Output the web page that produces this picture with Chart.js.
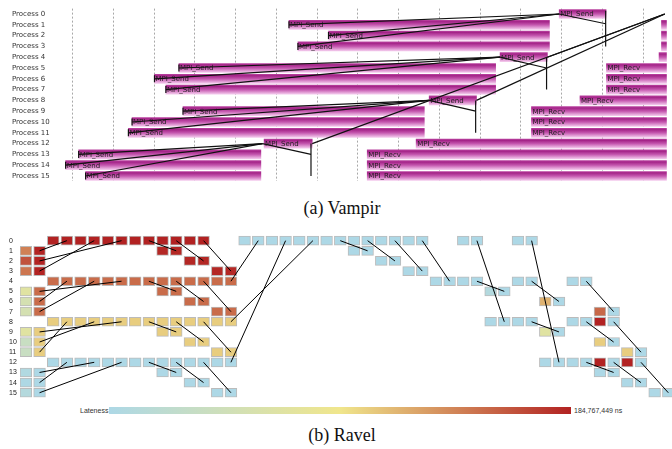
<!DOCTYPE html>
<html><head><meta charset="utf-8">
<script src="https://cdn.jsdelivr.net/npm/chart.js@4.4.1/dist/chart.umd.min.js"></script>
<style>
html,body{margin:0;padding:0;background:#fff;}
body{width:672px;height:449px;position:relative;overflow:hidden;}
canvas{position:absolute;left:0;}
#c1{top:0;}
#c2{top:228px;}
.cap{position:absolute;left:0;width:684px;text-align:center;font-family:"Liberation Serif","Times New Roman",serif;font-size:18px;line-height:18px;color:#111;}
.cb{position:absolute;font-family:"Liberation Sans",Arial,sans-serif;font-size:7px;line-height:7px;color:#333;}
#bar{position:absolute;left:109px;top:407px;width:462px;height:7px;background:linear-gradient(to right,#add8e6 0%,#f0e68c 50%,#b22222 100%);}
</style></head>
<body>
<canvas id="c1" width="672" height="190"></canvas>
<div class="cap" style="top:199px">(a) Vampir</div>
<canvas id="c2" width="672" height="174"></canvas>
<div class="cb" style="left:80px;top:407px">Lateness</div>
<div id="bar"></div>
<div class="cb" style="left:574px;top:407px">184,767,449 ns</div>
<div class="cap" style="top:426px">(b) Ravel</div>
<script>
// ---------- (a) Vampir data (time in grid units) ----------
const processLabels = ['Process 0','Process 1','Process 2','Process 3','Process 4','Process 5','Process 6','Process 7','Process 8','Process 9','Process 10','Process 11','Process 12','Process 13','Process 14','Process 15'];
const sendStart = [11.94, 5.31, 6.28, 5.53, 10.49, 2.61, 2.01, 2.29, 8.75, 2.71, 1.46, 1.37, 4.70, 0.15, -0.17, 0.32];
const sendEnd   = [13.09, 11.70, 11.70, 11.70, 11.65, 10.38, 10.38, 10.38, 9.91, 8.63, 8.63, 8.63, 5.88, 4.62, 4.62, 4.62];
const recvProc  = [1, 2, 3, 4, 5, 6, 7, 8, 9, 10, 11, 12, 13, 14, 15];
const recvStart = [14.45, 14.45, 14.45, 14.39, 13.10, 13.10, 13.10, 12.45, 11.26, 11.26, 11.26, 8.43, 7.23, 7.23, 7.23];
const recvEnd   = [15.5, 15.5, 15.5, 15.5, 15.5, 15.5, 15.5, 15.5, 15.5, 15.5, 15.5, 15.5, 15.5, 15.5, 15.5];
const msgFromTime = [5.31, 6.28, 5.53, 11.94, 13.08, 2.61, 2.01, 2.29, 10.49, 11.63, 11.65, 2.71, 1.46, 1.37, 8.75, 9.89, 9.91, 0.15, -0.17, 0.32, 4.66, 5.85, 5.88];
const msgFromProc = [1, 2, 3, 0, -0.3, 5, 6, 7, 4, 4, 4, 9, 10, 11, 8, 8, 8, 13, 14, 15, 12, 12, 12];
const msgToTime   = [11.94, 11.94, 11.94, 13.08, 13.08, 10.49, 10.49, 10.49, 11.63, 11.63, 14.53, 8.75, 8.75, 8.75, 9.89, 9.89, 14.53, 4.66, 4.66, 4.66, 5.85, 5.85, 14.53];
const msgToProc   = [0, 0, 0, 0.9, 3, 4, 4, 4, 5, 7, 0, 8, 8, 8, 9, 11, 0, 12, 12, 12, 13, 15, 0];
const msgTick     = [1, 1, 1, 0, 0, 1, 1, 1, 0, 0, 0, 1, 1, 1, 0, 0, 0, 1, 1, 1, 0, 0, 0];

// ---------- (b) Ravel data (logical steps, lateness in millions of ns) ----------
const rankLabels = ['0','1','2','3','4','5','6','7','8','9','10','11','12','13','14','15'];
const latenessMax = 184.767449;
const ravelSteps = [
  [2,3,4,5,6,7,8,9,10,11,12,13,16,17,18,19,20,21,22,23,24,25,26,27,28,29,32,33,36,37],
  [0,1,10,11,24,25],
  [0,1,12,13,26,27],
  [0,1,14,15,28,29],
  [2,3,4,5,6,7,8,9,10,11,12,13,14,15,30,31,32,33,36,37,40,41],
  [0,1,10,11,34,35],
  [0,1,12,13,38,39],
  [0,1,14,15,42,43],
  [2,3,4,5,6,7,8,9,10,11,12,13,14,15,34,35,36,37,40,41,42,43],
  [0,1,10,11,38,39],
  [0,1,12,13,42,43],
  [0,1,14,15,44,45],
  [2,3,4,5,6,7,8,9,10,11,12,13,14,15,38,39,40,41,42,43,44,45],
  [0,1,10,11,42,43],
  [0,1,12,13,44,45],
  [0,1,14,15,46,47]
];
const ravelLateness = [
  [184.8,184.8,184.8,184.8,184.8,184.8,184.8,184.8,184.8,184.8,184.8,184.8,0,0,0,0,0,0,0,0,0,0,0,0,0,0,0,0,0,0],
  [140,184,182,182,0,0],
  [162,184,182,182,0,0],
  [145,184,182,182,0,0],
  [150,150,150,150,150,150,150,150,150,150,150,150,150,150,0,0,0,0,0,0,0,0],
  [70,150,150,150,8,0],
  [54,150,150,150,117,0],
  [54,150,150,150,152,0],
  [104,104,104,104,104,104,104,104,104,104,104,104,104,104,0,0,0,0,0,0,184.8,0],
  [70,104,104,104,70,0],
  [37,104,104,104,104,0],
  [37,104,104,104,104,0],
  [0,0,0,0,0,0,0,0,0,0,0,0,0,0,0,0,0,0,184.8,0,184.8,0],
  [5,0,0,0,0,0],
  [2,0,0,0,0,0],
  [9,0,0,0,0,0]
];
const ravelFromStep = [1,1,1,9,11,13, 1,1,1,9,11,13, 1,1,1,9,11,13, 1,1,1,9,11,13, 15,15,15, 23,25,27,29,33,33,37,37,37,41,41,43,41,43,45];
const ravelFromRow  = [1,2,3,0,0,0,   5,6,7,4,4,4,    9,10,11,8,8,8,  13,14,15,12,12,12, 4,8,12, 0,0,0,0,0,4,0,4,8,4,8,8,12,12,12];
const ravelToStep   = [3,7,5,11,13,15, 7,3,5,11,13,15, 7,5,3,11,13,15, 5,3,7,11,13,15, 17,21,19, 25,27,29,31,35,35,39,39,39,43,43,45,43,45,47];
const ravelToRow    = [0,0,0,1,2,3,   4,4,4,5,6,7,    8,8,8,9,10,11,  12,12,12,13,14,15, 0,0,0, 1,2,3,4,8,5,12,6,9,7,10,11,13,14,15];

Chart.defaults.animation = false;

function latenessColor(v) {
  const t = Math.max(0, Math.min(1, v / latenessMax));
  const stops = [[173,216,230],[240,230,140],[178,34,34]];
  const seg = t < 0.5 ? 0 : 1;
  const f = t < 0.5 ? t / 0.5 : (t - 0.5) / 0.5;
  const a = stops[seg], b = stops[seg + 1];
  return 'rgb(' + a.map((c, i) => Math.round(c + (b[i] - c) * f)).join(',') + ')';
}

function magenta(ctx) {
  const chart = ctx.chart;
  const ys = chart.scales && chart.scales.y;
  if (ctx.type !== 'data' || !ys || !chart.chartArea || !ctx.raw) return '#c455b0';
  const yc = ys.getPixelForValue(ctx.raw.y);
  const g = chart.ctx.createLinearGradient(0, yc - 4.5, 0, yc + 4.5);
  g.addColorStop(0, '#b8409e');
  g.addColorStop(0.15, '#a42488');
  g.addColorStop(0.5, '#c456ae');
  g.addColorStop(1, '#f3c8ec');
  return g;
}

const barLabelPlugin = {
  id: 'barLabels',
  afterDatasetDraw(chart, args) {
    const ds = chart.data.datasets[args.index];
    if (!ds.barLabel) return;
    const c = chart.ctx, area = chart.chartArea;
    c.save();
    c.font = '7px "DejaVu Sans", sans-serif';
    c.fillStyle = '#1e1e1e';
    c.textBaseline = 'middle';
    const w = c.measureText(ds.barLabel).width;
    args.meta.data.forEach(el => {
      const p = el.getProps(['x', 'base', 'y'], true);
      const left = Math.max(Math.min(p.x, p.base), area.left);
      const right = Math.min(Math.max(p.x, p.base), area.right);
      if (right - left - 2 < w) return;
      c.fillText(ds.barLabel, left + 1, p.y + 0.5);
    });
    c.restore();
  }
};

// ---------- Chart (a) ----------
const topDatasets = [
  { type: 'bar', label: 'MPI_Send', barLabel: 'MPI_Send', order: 2,
    data: sendStart.map((s, i) => ({ x: [s, sendEnd[i]], y: i })),
    backgroundColor: magenta, borderWidth: 0, barThickness: 9, grouped: false },
  { type: 'bar', label: 'MPI_Recv', barLabel: 'MPI_Recv', order: 2,
    data: recvProc.map((p, i) => ({ x: [recvStart[i], recvEnd[i]], y: p })),
    backgroundColor: magenta, borderWidth: 0, barThickness: 9, grouped: false }
];
msgFromTime.forEach((t, i) => {
  topDatasets.push({
    type: 'line', order: 1, indexAxis: 'x',
    data: [{ x: t, y: msgFromProc[i] }, { x: msgToTime[i], y: msgToProc[i] }],
    borderColor: '#111', borderWidth: 1.2, tension: 0,
    pointStyle: 'line', rotation: 90, pointBorderColor: '#111', pointBorderWidth: 1.2,
    pointRadius: (ctx) => (ctx.dataIndex === 0 && msgTick[i]) ? 3.5 : 0
  });
});

new Chart(document.getElementById('c1'), {
  type: 'bar',
  data: { datasets: topDatasets },
  plugins: [barLabelPlugin],
  options: {
    responsive: false, devicePixelRatio: 1, indexAxis: 'y', events: [],
    layout: { padding: { left: 12, top: 8.6, bottom: 8.6, right: 0 } },
    plugins: { legend: { display: false }, tooltip: { enabled: false } },
    scales: {
      x: { type: 'linear', min: -0.21, max: 14.58, offset: false,
        afterBuildTicks: s => { const t = []; for (let v = 0; v <= 14; v++) t.push({ value: v }); s.ticks = t; },
        afterFit: s => { s.height = 0; },
        ticks: { display: false },
        border: { display: false, dash: [2, 2] },
        grid: { color: '#a8a8a8', lineWidth: 1, drawTicks: false }
      },
      y: { type: 'linear', reverse: true, min: -0.5, max: 15.5, offset: false,
        afterBuildTicks: s => { s.ticks = processLabels.map((l, i) => ({ value: i })); },
        afterFit: s => { s.width = 52; },
        ticks: { crossAlign: 'far', padding: 0, autoSkip: false, color: '#333', font: { family: '"DejaVu Sans", sans-serif', size: 7 },
          callback: v => processLabels[v] },
        border: { display: false },
        grid: { display: false, offset: false }
      }
    }
  }
});

// ---------- Chart (b) ----------
const cellData = [], cellColors = [];
ravelSteps.forEach((steps, r) => steps.forEach((s, k) => {
  cellData.push({ x: [s, s + 0.86], y: r });
  cellColors.push(latenessColor(ravelLateness[r][k]));
}));
const botDatasets = [
  { type: 'bar', order: 2, data: cellData, backgroundColor: cellColors,
    borderColor: 'rgba(120,120,120,0.5)', borderWidth: 1, borderSkipped: false,
    barThickness: 9, grouped: false }
];
ravelFromStep.forEach((s, i) => {
  botDatasets.push({
    type: 'line', order: 1, indexAxis: 'x',
    data: [{ x: s + 0.43, y: ravelFromRow[i] }, { x: ravelToStep[i] + 0.43, y: ravelToRow[i] }],
    borderColor: '#000', borderWidth: 1, pointRadius: 0, tension: 0
  });
});

new Chart(document.getElementById('c2'), {
  type: 'bar',
  data: { datasets: botDatasets },
  options: {
    responsive: false, devicePixelRatio: 1, indexAxis: 'y', events: [],
    layout: { padding: { left: 9, top: 7.6, bottom: 4.2, right: 0 } },
    plugins: { legend: { display: false }, tooltip: { enabled: false } },
    scales: {
      x: { type: 'linear', min: 0, max: 47.7, display: false, offset: false },
      y: { type: 'linear', reverse: true, min: -0.5, max: 15.5, offset: false,
        afterBuildTicks: s => { s.ticks = rankLabels.map((l, i) => ({ value: i })); },
        afterFit: s => { s.width = 11; },
        ticks: { crossAlign: 'far', padding: 0, autoSkip: false, color: '#222', font: { family: '"Liberation Sans", Arial, sans-serif', size: 7 },
          callback: v => rankLabels[v] },
        border: { display: false },
        grid: { display: false, offset: false }
      }
    }
  }
});
</script>
</body></html>
